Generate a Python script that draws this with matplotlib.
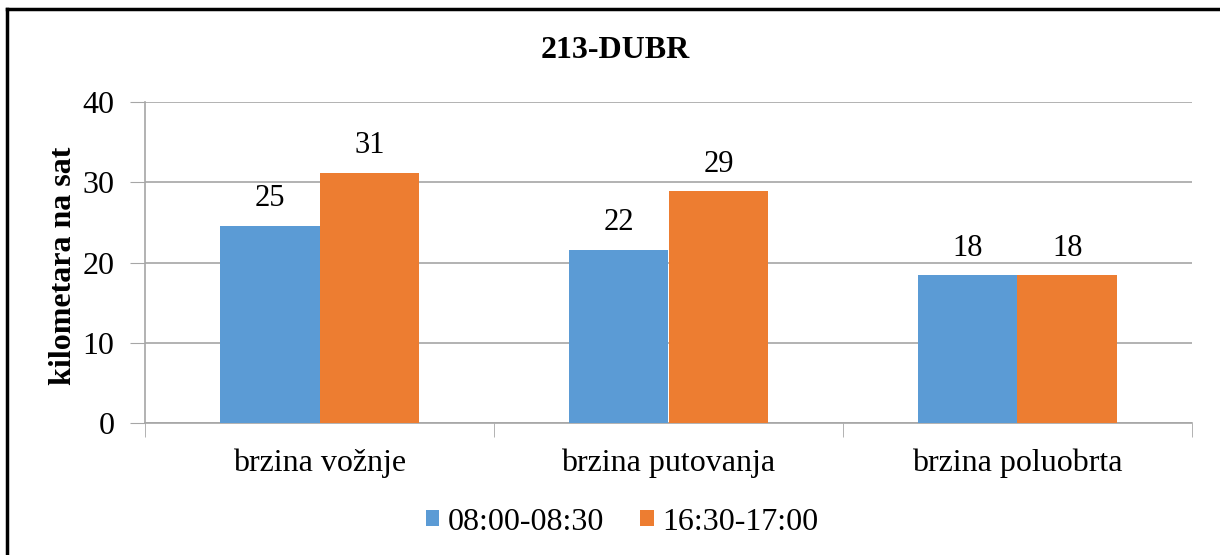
import matplotlib.pyplot as plt
import numpy as np
from matplotlib.lines import Line2D

plt.rcParams['font.family'] = ['Liberation Serif', 'DejaVu Serif']

categories = ['brzina vožnje', 'brzina putovanja', 'brzina poluobrta']
series_names = ['08:00-08:30', '16:30-17:00']
morning = [24.6, 21.6, 18.4]
evening = [31.2, 28.9, 18.4]
labels_morning = ['25', '22', '18']
labels_evening = ['31', '29', '18']
colors = ['#5b9bd5', '#ed7d31']

fig = plt.figure(figsize=(12.2, 5.55), dpi=100)
ax = fig.add_axes([145/1220, 1 - 423/555, 1047/1220, 321/555])

x = np.arange(len(categories))
w = 0.286
b1 = ax.bar(x - w/2, morning, w, color=colors[0], label=series_names[0], zorder=3)
b2 = ax.bar(x + w/2, evening, w, color=colors[1], label=series_names[1], zorder=3)
ax.bar_label(b1, labels=labels_morning, padding=9, fontsize=22)
ax.bar_label(b2, labels=labels_evening, padding=9, fontsize=22)

ax.set_xlim(-0.5, 2.5)
ax.set_ylim(0, 40)
ax.set_yticks([0, 10, 20, 30, 40])
ax.tick_params(axis='y', labelsize=23, length=11, color='#a6a6a6', pad=11)
ax.set_xticks(x)
ax.set_xticklabels(categories)
ax.tick_params(axis='x', labelsize=23, length=0, pad=18)
ax.set_xticks([-0.5, 0.5, 1.5, 2.5], minor=True)
ax.tick_params(axis='x', which='minor', length=10, color='#a6a6a6')
ax.grid(axis='y', color='#a6a6a6', linewidth=1.2, zorder=0)
for s in ['top', 'right']:
    ax.spines[s].set_visible(False)
for s in ['left', 'bottom']:
    ax.spines[s].set_color('#a6a6a6')
    ax.spines[s].set_linewidth(1.2)

ax.set_ylabel('kilometara na sat', fontsize=23, fontweight='bold')
ax.yaxis.set_label_coords(-67/1047, 0.49)
fig.text(615/1220, 1 - 50/555, '213-DUBR', ha='center', va='center',
         fontsize=23, fontweight='bold')

fig.legend(loc='center', bbox_to_anchor=(622/1220, 1 - 522/555), ncol=2,
           frameon=False, fontsize=23, handlelength=0.42, handleheight=0.42,
           handletextpad=0.25, columnspacing=1.15)

fig.add_artist(Line2D([7/1220, 7/1220], [0, 1 - 9/555], transform=fig.transFigure,
                      color='black', linewidth=2.5))
fig.add_artist(Line2D([7/1220, 1], [1 - 9/555, 1 - 9/555], transform=fig.transFigure,
                      color='black', linewidth=2.5))

fig.savefig('out.png', dpi=100)
